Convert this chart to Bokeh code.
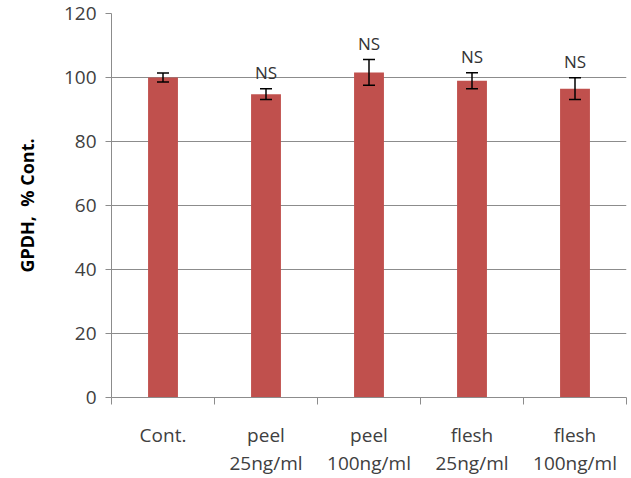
from bokeh.plotting import figure
from bokeh.models import ColumnDataSource, FixedTicker, Whisker, TeeHead, Range1d
from bokeh.embed import file_html
from bokeh.resources import INLINE
from bokeh.core.properties import value

# GPDH activity relative to control
categories = ["Cont.", "peel\n25ng/ml", "peel\n100ng/ml", "flesh\n25ng/ml", "flesh\n100ng/ml"]
gpdh = [100.0, 94.8, 101.6, 99.0, 96.5]
errors = [1.4, 1.7, 4.0, 2.5, 3.4]
marks = ["", "NS", "NS", "NS", "NS"]
y_ticks = [0, 20, 40, 60, 80, 100, 120]

FONT = "Open Sans"
GRID = "#8c8c8c"
BAR = "#c0504d"

xs = [i + 0.5 for i in range(len(categories))]
src = ColumnDataSource(dict(
    x=xs,
    top=gpdh,
    upper=[v + e for v, e in zip(gpdh, errors)],
    lower=[v - e for v, e in zip(gpdh, errors)],
    mark=marks,
))

p = figure(width=631, height=478, output_backend="svg", toolbar_location=None,
           x_range=Range1d(0, len(categories)), y_range=Range1d(0, 120),
           min_border_left=111, min_border_right=5, min_border_top=13, min_border_bottom=80)
p.outline_line_color = None
p.background_fill_color = "white"

p.vbar(x="x", top="top", width=0.29, source=src, fill_color=BAR, line_color=None)

p.add_layout(Whisker(source=src, base="x", upper="upper", lower="lower", level="overlay",
                     line_color="black", line_width=1.5,
                     upper_head=TeeHead(size=12, line_color="black", line_width=1.5),
                     lower_head=TeeHead(size=12, line_color="black", line_width=1.5)))

p.text(x="x", y="upper", text="mark", source=src, text_align="center",
       text_baseline="bottom", y_offset=-5, text_font=value(FONT),
       text_font_size="17px", text_color="#333333")

# y axis
p.yaxis.ticker = FixedTicker(ticks=y_ticks)
p.yaxis.axis_line_color = GRID
p.yaxis.major_tick_line_color = GRID
p.yaxis.major_tick_out = 6
p.yaxis.major_tick_in = 0
p.yaxis.minor_tick_line_color = None
p.yaxis.major_label_text_font = FONT
p.yaxis.major_label_text_font_size = "19px"
p.yaxis.major_label_text_color = "#404040"
p.yaxis.major_label_standoff = 9
p.yaxis.axis_label = "GPDH,\u00a0 % Cont."
p.yaxis.axis_label_text_font = FONT
p.yaxis.axis_label_text_font_style = "bold"
p.yaxis.axis_label_text_font_size = "18px"
p.yaxis.axis_label_text_color = "black"
p.yaxis.axis_label_standoff = 22

# x axis: labels at bar centres, ticks at category boundaries
p.xaxis.ticker = FixedTicker(ticks=xs, minor_ticks=list(range(len(categories) + 1)))
p.xaxis.major_label_overrides = {x: c for x, c in zip(xs, categories)}
p.xaxis.axis_line_color = GRID
p.xaxis.major_tick_line_color = None
p.xaxis.minor_tick_line_color = GRID
p.xaxis.minor_tick_out = 7
p.xaxis.minor_tick_in = 0
p.xaxis.major_label_text_font = FONT
p.xaxis.major_label_text_font_size = "19px"
p.xaxis.major_label_text_color = "#404040"
p.xaxis.major_label_text_line_height = 1.08
p.xaxis.major_label_standoff = 17

p.xgrid.grid_line_color = None
p.ygrid.grid_line_color = GRID
p.ygrid.grid_line_width = 1

open("out.html", "w").write(file_html(p, INLINE))
